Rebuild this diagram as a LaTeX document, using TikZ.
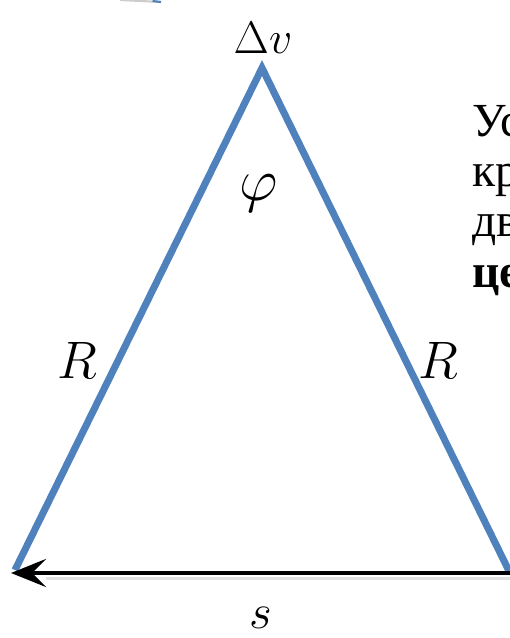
\RequirePackage{fix-cm}
\documentclass[tikz,border=0pt]{standalone}
\usepackage{fontspec}
\newfontfamily\cyrserif{Liberation Serif}
\usetikzlibrary{arrows.meta}
\definecolor{sideblue}{RGB}{79,129,189}

\begin{document}
\begin{tikzpicture}[
    side line/.style={line width=4pt, sideblue, line join=miter},
    chord arrow/.style={line width=2.8pt, black, -{Stealth[length=7mm, width=5.6mm, inset=2.8mm]}},
    chord shadow/.style={line width=2pt, black!12},
    math label/.style={inner sep=0pt},
    side text/.style={anchor=base west, inner sep=0pt, font=\cyrserif\fontsize{27}{29}\selectfont}
]

% 0. Marco fijo del dibujo (510 x 638 px)
\useasboundingbox (0,0) rectangle (10.2,12.76);

% 1. Vértices del triángulo
\coordinate (apex) at (5.24, 11.40);
\coordinate (bl) at (0.30, 1.36);
\coordinate (br) at (10.18, 1.34);
\coordinate (tipL) at (0.22, 1.30);
\coordinate (tailR) at (10.30, 1.30);

% Fragmento cortado arriba a la izquierda
\coordinate (fragA) at (2.40, 12.76);
\coordinate (fragB) at (3.22, 12.72);
\draw[black!20, line width=1.2pt] (fragA) -- (fragB);
\draw[sideblue, line width=1.2pt] (3.05, 12.74) -- (fragB);

% 2. Lados iguales (R)
\draw[side line] (bl) -- (apex) -- (br);

% 3. Cuerda s (flecha de derecha a izquierda)
\draw[chord shadow] ([yshift=-3pt]tailR) -- ([yshift=-3pt, xshift=7mm]tipL);
\draw[chord arrow] (tailR) -- (tipL);

% 4. Etiquetas
\node[math label, font=\fontsize{26}{28}\selectfont] (dv) at (5.26, 12.0) {$\Delta v$};
\node[math label, font=\fontsize{34}{36}\selectfont] (phi) at (5.18, 8.90) {$\varphi$};
\node[math label, font=\fontsize{30}{32}\selectfont] (rL) at (1.54, 5.56) {$R$};
\node[math label, font=\fontsize{30}{32}\selectfont] (rR) at (8.76, 5.56) {$R$};
\node[math label, font=\fontsize{28}{30}\selectfont] (s) at (5.22, 0.40) {$s$};

% 5. Texto lateral (cortado por el borde)
\node[side text] (line1) at (9.44, 10.02) {Ус};
\node[side text] (line2) at (9.44, 9.02) {кр};
\node[side text] (line3) at (9.44, 8.02) {дв};
\node[side text, font=\cyrserif\bfseries\fontsize{27}{29}\selectfont] (line4) at (9.44, 7.00) {це};

\end{tikzpicture}
\end{document}
